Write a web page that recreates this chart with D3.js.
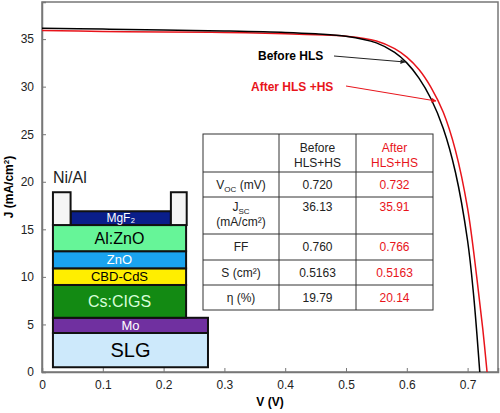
<!DOCTYPE html>
<html><head><meta charset="utf-8">
<script src="https://cdn.jsdelivr.net/npm/d3@7"></script>
<style>body{margin:0;background:#fff}text{font-family:Arial,"Liberation Sans",sans-serif}</style>
</head><body><svg id="c" width="500" height="413"></svg>
<script>
const xTicks=[0,0.1,0.2,0.3,0.4,0.5,0.6,0.7];
const yTicks=[0,5,10,15,20,25,30,35];
const beforeV=[0,0.1,0.2,0.3,0.4,0.45,0.5,0.55,0.58,0.6,0.62,0.64,0.66,0.68,0.70,0.71,0.72];
const beforeJ=[36.13,36.05,35.95,35.85,35.7,35.55,35.3,34.6,33.6,32.5,30.9,28.7,25.6,21.0,13.8,8.0,0];
const afterV=[0,0.1,0.2,0.3,0.4,0.45,0.5,0.55,0.58,0.6,0.62,0.64,0.66,0.68,0.70,0.715,0.725,0.732];
const afterJ=[35.91,35.8,35.75,35.7,35.55,35.45,35.3,34.8,34.0,33.1,31.8,29.9,27.3,23.3,17.2,10.0,4.5,0];
const layers=[
 {name:"SLG",x0:0.018,x1:0.273,j0:0.5,j1:4.1,fill:"#cde9fb",tc:"#000",fs:20},
 {name:"Mo",x0:0.018,x1:0.273,j0:4.1,j1:5.7,fill:"#7030a0",tc:"#fff",fs:13},
 {name:"Cs:CIGS",x0:0.018,x1:0.237,j0:5.7,j1:9.15,fill:"#138a13",tc:"#d8ffd8",fs:16},
 {name:"CBD-CdS",x0:0.018,x1:0.237,j0:9.15,j1:10.9,fill:"#ffee00",tc:"#000",fs:13},
 {name:"ZnO",x0:0.018,x1:0.237,j0:10.9,j1:12.7,fill:"#1aa3ef",tc:"#fff",fs:13},
 {name:"Al:ZnO",x0:0.018,x1:0.237,j0:12.7,j1:15.45,fill:"#66f598",tc:"#000",fs:16},
 {name:"MgF₂",x0:0.047,x1:0.212,j0:15.45,j1:16.9,fill:"#0a1e8a",tc:"#fff",fs:12},
 {name:"",x0:0.018,x1:0.047,j0:15.45,j1:18.9,fill:"#f5f5f5",tc:"#000",fs:12},
 {name:"",x0:0.212,x1:0.238,j0:15.45,j1:18.9,fill:"#f5f5f5",tc:"#000",fs:12}];
const tableHead=["","Before\nHLS+HS","After\nHLS+HS"];
const tableRows=[["V_OC (mV)","0.720","0.732"],["J_SC\n(mA/cm²)","36.13","35.91"],["FF","0.760","0.766"],["S (cm²)","0.5163","0.5163"],["η (%)","19.79","20.14"]];

const svg=d3.select("#c");
const L=42,R=498,T=2,B=372;
const x=d3.scaleLinear().domain([0,0.75]).range([L,R]);
const y=d3.scaleLinear().domain([0,38.9]).range([B,T]);
svg.append("rect").attr("x",L).attr("y",T).attr("width",R-L).attr("height",B-T).attr("fill","none").attr("stroke","#777").attr("stroke-width",1.5);
const gx=svg.append("g").attr("transform",`translate(0,${B})`).call(d3.axisBottom(x).tickValues(xTicks).tickSize(-4).tickPadding(8).tickFormat(d=>d===0?"0":d3.format(".1f")(d)));
const gy=svg.append("g").attr("transform",`translate(${L},0)`).call(d3.axisLeft(y).tickValues(yTicks).tickSize(-4).tickPadding(8));
[gx,gy].forEach(g=>{g.select(".domain").attr("stroke","#777").attr("stroke-width",1.5);g.selectAll(".tick line").attr("stroke","#777");g.selectAll("text").attr("font-size",12).attr("fill","#222").style("font-family","Arial");});
svg.append("text").attr("x",(L+R)/2).attr("y",406).attr("text-anchor","middle").attr("font-weight","bold").attr("font-size",12).text("V (V)");
svg.append("text").attr("transform","translate(13,"+(B+T)/2+") rotate(-90)").attr("text-anchor","middle").attr("font-weight","bold").attr("font-size",12).html('J (mA/cm<tspan baseline-shift="super" font-size="8">2</tspan>)');

const mk=(V,J)=>V.map((v,i)=>[v,J[i]]);
const ln=d3.line().x(d=>x(d[0])).y(d=>y(d[1])).curve(d3.curveCatmullRom);
svg.append("path").attr("d",ln(mk(afterV,afterJ))).attr("fill","none").attr("stroke","#e8141b").attr("stroke-width",1.5);
svg.append("path").attr("d",ln(mk(beforeV,beforeJ))).attr("fill","none").attr("stroke","#000").attr("stroke-width",1.5);

const defs=svg.append("defs");
[["ab","#222"],["ar","#e8141b"]].forEach(([id,c])=>defs.append("marker").attr("id",id).attr("viewBox","0 0 10 10").attr("refX",9).attr("refY",5).attr("markerWidth",7).attr("markerHeight",5).attr("orient","auto").append("path").attr("d","M0,0L10,5L0,10z").attr("fill",c));
svg.append("text").attr("x",258).attr("y",60).attr("font-weight","bold").attr("font-size",12).text("Before HLS");
svg.append("line").attr("x1",334).attr("y1",56).attr("x2",405).attr("y2",62).attr("stroke","#222").attr("marker-end","url(#ab)");
svg.append("text").attr("x",251).attr("y",91).attr("font-weight","bold").attr("font-size",12).attr("fill","#e8141b").text("After HLS +HS");
svg.append("line").attr("x1",346).attr("y1",86).attr("x2",436).attr("y2",101).attr("stroke","#e8141b").attr("marker-end","url(#ar)");

const cols=[203,279,356,433], rowsY=[134,172,197,234,260,285,310];
const tg=svg.append("g");
tg.append("rect").attr("x",cols[0]).attr("y",rowsY[0]).attr("width",cols[3]-cols[0]).attr("height",rowsY[6]-rowsY[0]).attr("fill","#fff").attr("stroke","#333");
cols.slice(1,3).forEach(c=>tg.append("line").attr("x1",c).attr("x2",c).attr("y1",rowsY[0]).attr("y2",rowsY[6]).attr("stroke","#333"));
rowsY.slice(1,6).forEach(r=>tg.append("line").attr("x1",cols[0]).attr("x2",cols[3]).attr("y1",r).attr("y2",r).attr("stroke","#333"));
const cell=(txt,ci,y0,col)=>{
  const cx=(cols[ci]+cols[ci+1])/2;
  txt.split("\n").forEach((s,k)=>{
    const t=tg.append("text").attr("x",cx).attr("y",y0+k*15).attr("text-anchor","middle").attr("font-size",12).attr("fill",col);
    const m=s.match(/^(.)_(\w+)(.*)$/);
    if(m){t.append("tspan").text(m[1]);t.append("tspan").attr("font-size",8).attr("dy",3).text(m[2]);t.append("tspan").attr("dy",-3).text(m[3]);}
    else t.text(s);
  });
};
cell(tableHead[1],1,152,"#222");cell(tableHead[2],2,152,"#e8141b");
tableRows.forEach((r,i)=>{
  const y0=i===1?rowsY[2]+14:(rowsY[i+1]+rowsY[i+2])/2+4;
  r.forEach((v,ci)=>cell(v,ci,y0,ci===2?"#e8141b":"#222"));
});

const dg=svg.append("g");
layers.forEach(l=>{
  dg.append("rect").attr("x",x(l.x0)).attr("y",y(l.j1)).attr("width",x(l.x1)-x(l.x0)).attr("height",y(l.j0)-y(l.j1)).attr("fill",l.fill).attr("stroke","#111").attr("stroke-width",2);
  if(l.name) dg.append("text").attr("x",(x(l.x0)+x(l.x1))/2).attr("y",(y(l.j0)+y(l.j1))/2+l.fs*0.36).attr("text-anchor","middle").attr("font-size",l.fs).attr("fill",l.tc).text(l.name);
});
svg.append("text").attr("x",x(0.018)).attr("y",183).attr("font-size",16).attr("fill","#222").text("Ni/Al");
</script></body></html>
